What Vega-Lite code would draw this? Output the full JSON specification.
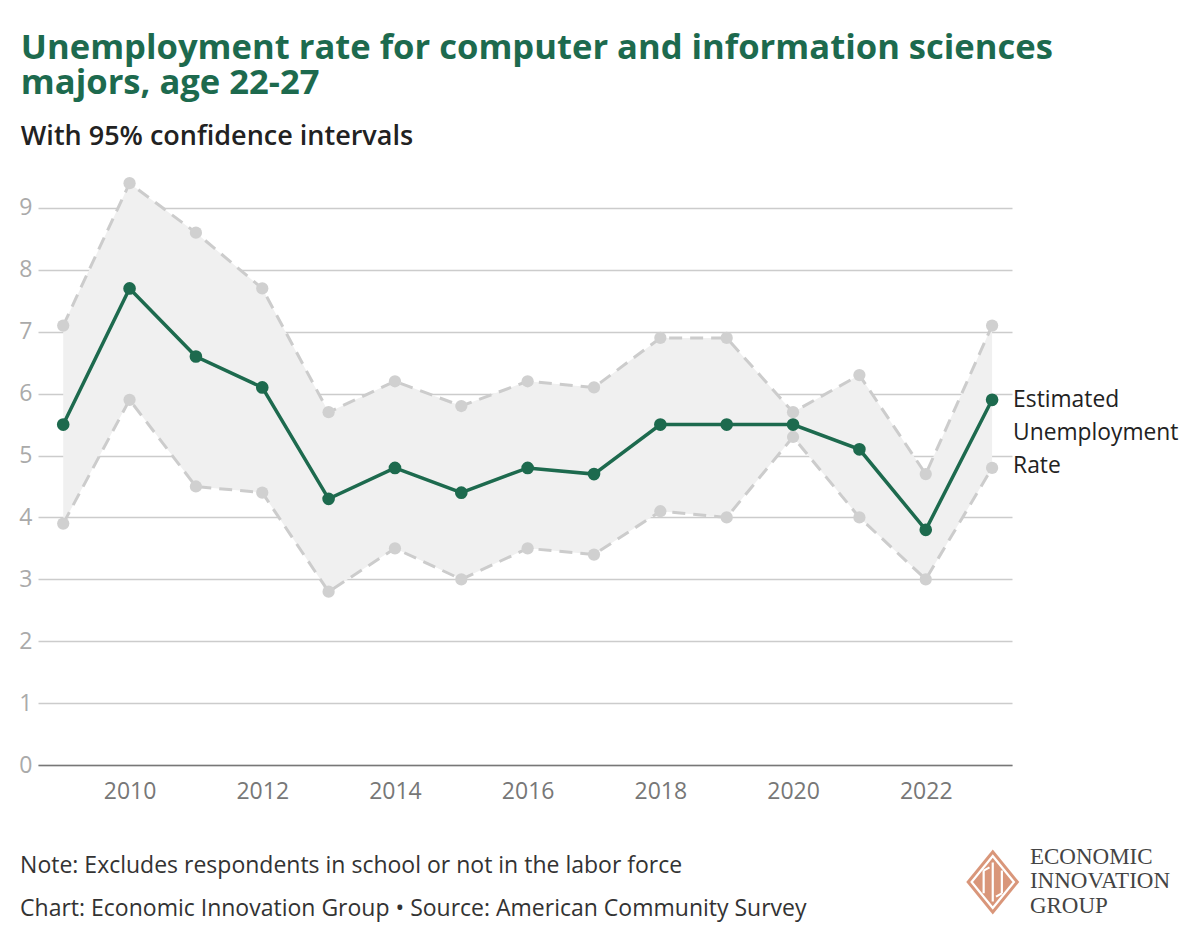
{
  "$schema": "https://vega.github.io/schema/vega-lite/v6.json",
  "width": 974,
  "height": 588,
  "autosize": {"type": "pad"},
  "padding": {"left": 18, "top": 31, "right": 0, "bottom": 12},
  "background": "white",
  "config": {
    "font": "Open Sans",
    "view": {"stroke": null}
  },
  "title": {
    "text": ["Unemployment rate for computer and information sciences", "majors, age 22-27"],
    "subtitle": "With 95% confidence intervals",
    "anchor": "start",
    "frame": "bounds",
    "dx": 2,
    "font": "Open Sans",
    "fontSize": 34.6,
    "fontWeight": "bold",
    "color": "#1d6a4e",
    "lineHeight": 35,
    "subtitleFont": "Open Sans",
    "subtitleFontSize": 27,
    "subtitleFontWeight": 600,
    "subtitleColor": "#222222",
    "subtitlePadding": 22,
    "offset": 26
  },
  "data": {
    "values": [
      {"year": 2009, "est": 5.5, "lo": 3.9, "hi": 7.1},
      {"year": 2010, "est": 7.7, "lo": 5.9, "hi": 9.4},
      {"year": 2011, "est": 6.6, "lo": 4.5, "hi": 8.6},
      {"year": 2012, "est": 6.1, "lo": 4.4, "hi": 7.7},
      {"year": 2013, "est": 4.3, "lo": 2.8, "hi": 5.7},
      {"year": 2014, "est": 4.8, "lo": 3.5, "hi": 6.2},
      {"year": 2015, "est": 4.4, "lo": 3.0, "hi": 5.8},
      {"year": 2016, "est": 4.8, "lo": 3.5, "hi": 6.2},
      {"year": 2017, "est": 4.7, "lo": 3.4, "hi": 6.1},
      {"year": 2018, "est": 5.5, "lo": 4.1, "hi": 6.9},
      {"year": 2019, "est": 5.5, "lo": 4.0, "hi": 6.9},
      {"year": 2020, "est": 5.5, "lo": 5.3, "hi": 5.7},
      {"year": 2021, "est": 5.1, "lo": 4.0, "hi": 6.3},
      {"year": 2022, "est": 3.8, "lo": 3.0, "hi": 4.7},
      {"year": 2023, "est": 5.9, "lo": 4.8, "hi": 7.1}
    ]
  },
  "layer": [
    {
      "mark": {"type": "area", "color": "#f0f0f0", "opacity": 1},
      "encoding": {
        "x": {
          "field": "year",
          "type": "quantitative",
          "scale": {"domain": [2008.62, 2023.3], "nice": false, "zero": false},
          "axis": {
            "title": null,
            "values": [2010, 2012, 2014, 2016, 2018, 2020, 2022],
            "format": "d",
            "grid": false,
            "ticks": false,
            "domain": true,
            "domainColor": "#777777",
            "domainWidth": 1.5,
            "labelFontSize": 23,
            "labelColor": "#777777",
            "labelPadding": 15,
            "labelFont": "Open Sans"
          }
        },
        "y": {
          "field": "lo",
          "type": "quantitative",
          "scale": {"domain": [0, 9.5], "nice": false},
          "axis": {
            "title": null,
            "values": [0, 1, 2, 3, 4, 5, 6, 7, 8, 9],
            "format": "d",
            "grid": true,
            "gridColor": "#cccccc",
            "gridWidth": 1.5,
            "domain": false,
            "ticks": false,
            "labelFontSize": 23,
            "labelColor": "#aaaaaa",
            "labelPadding": 6,
            "labelFont": "Open Sans"
          }
        },
        "y2": {"field": "hi"}
      }
    },
    {
      "mark": {"type": "line", "color": "#cccccc", "strokeWidth": 3, "strokeDash": [13, 8]},
      "encoding": {"x": {"field": "year", "type": "quantitative"}, "y": {"field": "hi", "type": "quantitative"}}
    },
    {
      "mark": {"type": "line", "color": "#cccccc", "strokeWidth": 3, "strokeDash": [13, 8]},
      "encoding": {"x": {"field": "year", "type": "quantitative"}, "y": {"field": "lo", "type": "quantitative"}}
    },
    {
      "mark": {"type": "circle", "color": "#d0d0d0", "size": 150, "opacity": 1},
      "encoding": {"x": {"field": "year", "type": "quantitative"}, "y": {"field": "hi", "type": "quantitative"}}
    },
    {
      "mark": {"type": "circle", "color": "#d0d0d0", "size": 150, "opacity": 1},
      "encoding": {"x": {"field": "year", "type": "quantitative"}, "y": {"field": "lo", "type": "quantitative"}}
    },
    {
      "mark": {"type": "line", "color": "#1d6a4e", "strokeWidth": 3.5},
      "encoding": {"x": {"field": "year", "type": "quantitative"}, "y": {"field": "est", "type": "quantitative"}}
    },
    {
      "mark": {"type": "circle", "color": "#1d6a4e", "size": 160, "opacity": 1},
      "encoding": {"x": {"field": "year", "type": "quantitative"}, "y": {"field": "est", "type": "quantitative"}}
    },
    {
      "transform": [{"filter": "datum.year == 2023"}],
      "mark": {
        "type": "text",
        "text": ["Estimated", "Unemployment", "Rate"],
        "align": "left",
        "baseline": "top",
        "dx": 21,
        "dy": -11,
        "lineHeight": 33,
        "fontSize": 22.8,
        "color": "#222222",
        "font": "Open Sans"
      },
      "encoding": {"x": {"field": "year", "type": "quantitative"}, "y": {"field": "est", "type": "quantitative"}}
    },
    {
      "data": {"values": [{"t": 1}]},
      "mark": {
        "type": "text",
        "text": "Note: Excludes respondents in school or not in the labor force",
        "align": "left",
        "baseline": "alphabetic",
        "fontSize": 23,
        "color": "#333333",
        "font": "Open Sans"
      },
      "encoding": {"x": {"datum": 2008.35, "type": "quantitative"}, "y": {"datum": -1.745, "type": "quantitative"}}
    },
    {
      "data": {"values": [{"t": 1}]},
      "mark": {
        "type": "text",
        "text": "Chart: Economic Innovation Group • Source: American Community Survey",
        "align": "left",
        "baseline": "alphabetic",
        "fontSize": 23,
        "color": "#333333",
        "font": "Open Sans"
      },
      "encoding": {"x": {"datum": 2008.35, "type": "quantitative"}, "y": {"datum": -2.439, "type": "quantitative"}}
    },
    {
      "data": {"values": [{"t": 1}]},
      "mark": {
        "type": "point",
        "shape": "M0,-1L0.815,0L0,1L-0.815,0Z",
        "size": 4225,
        "filled": true,
        "color": "#d9967a",
        "opacity": 1
      },
      "encoding": {"x": {"datum": 2023.01, "type": "quantitative"}, "y": {"datum": -1.89, "type": "quantitative"}}
    },
    {
      "data": {"values": [{"t": 1}]},
      "mark": {
        "type": "point",
        "shape": "M0,-0.8L0.652,0L0,0.8L-0.652,0Z M0,-0.6L0,0.6 M-0.28,-0.35L-0.28,0.35 M0.28,-0.35L0.28,0.35 M-0.28,-0.35L-0.1,-0.45 M0.28,0.35L0.1,0.45",
        "size": 4225,
        "filled": false,
        "stroke": "#ffffff",
        "strokeWidth": 2.2,
        "opacity": 1
      },
      "encoding": {"x": {"datum": 2023.01, "type": "quantitative"}, "y": {"datum": -1.89, "type": "quantitative"}}
    },
    {
      "data": {"values": [{"t": 1}]},
      "mark": {"type": "text", "text": "ECONOMIC", "align": "left", "baseline": "alphabetic", "fontSize": 23, "letterSpacing": 1, "font": "Liberation Serif", "color": "#444444"},
      "encoding": {"x": {"datum": 2023.57, "type": "quantitative"}, "y": {"datum": -1.599, "type": "quantitative"}}
    },
    {
      "data": {"values": [{"t": 1}]},
      "mark": {"type": "text", "text": "INNOVATION", "align": "left", "baseline": "alphabetic", "fontSize": 23, "letterSpacing": 1, "font": "Liberation Serif", "color": "#444444"},
      "encoding": {"x": {"datum": 2023.57, "type": "quantitative"}, "y": {"datum": -1.987, "type": "quantitative"}}
    },
    {
      "data": {"values": [{"t": 1}]},
      "mark": {"type": "text", "text": "GROUP", "align": "left", "baseline": "alphabetic", "fontSize": 23, "letterSpacing": 1, "font": "Liberation Serif", "color": "#444444"},
      "encoding": {"x": {"datum": 2023.57, "type": "quantitative"}, "y": {"datum": -2.391, "type": "quantitative"}}
    }
  ]
}
